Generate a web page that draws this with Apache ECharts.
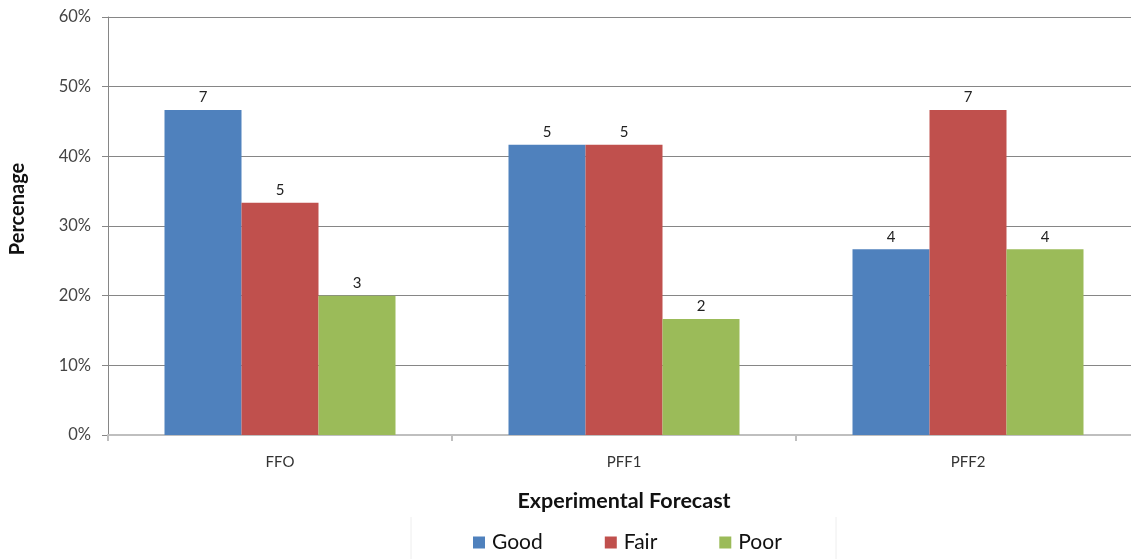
<!DOCTYPE html>
<html>
<head>
<meta charset="utf-8">
<script src="https://cdn.jsdelivr.net/npm/echarts@6/dist/echarts.min.js"></script>
<style>
  html, body { margin: 0; padding: 0; background: #fff; overflow: hidden; }
  /* canvas is a little wider than the window so the plot runs off the right edge */
  #chart { width: 1141px; height: 559px; }
</style>
</head>
<body>
<div id="chart"></div>
<script>
// Forecast groups and how many cases fell into each rating
const categories = ['FFO', 'PFF1', 'PFF2'];
const totals = [15, 12, 15];
const goodCounts = [7, 5, 4];
const fairCounts = [5, 5, 7];
const poorCounts = [3, 2, 4];
const seriesNames = ['Good', 'Fair', 'Poor'];
const colors = ['#4F81BD', '#C0504D', '#9BBB59'];

// Bar height is the share of the group's total; the label shows the count
function toShare(counts) {
  return counts.map((c, i) => ({ value: c / totals[i], count: c }));
}

const font = 'Lato, "Open Sans", "Liberation Sans", sans-serif';
const chart = echarts.init(document.getElementById('chart'), null, { renderer: 'canvas' });

const countSets = [goodCounts, fairCounts, poorCounts];
const series = seriesNames.map((name, k) => ({
  name: name,
  type: 'bar',
  data: toShare(countSets[k]),
  barWidth: 77,
  barGap: '0%',
  itemStyle: { color: colors[k] },
  label: {
    show: true,
    position: 'top',
    distance: 5,
    color: '#222',
    fontFamily: font,
    fontSize: 15,
    formatter: p => p.data.count
  }
}));

chart.setOption({
  animation: false,
  textStyle: { fontFamily: font },
  grid: { left: 108, top: 17, right: 1, bottom: 124, containLabel: false },
  legend: {
    data: seriesNames,
    left: 468,
    top: 527,
    itemWidth: 12,
    itemHeight: 12,
    itemGap: 62,
    icon: 'rect',
    textStyle: { fontSize: 21, color: '#111', fontFamily: font, padding: [0, 0, 0, 2] }
  },
  xAxis: {
    type: 'category',
    data: categories,
    name: 'Experimental Forecast',
    nameLocation: 'middle',
    nameGap: 55,
    nameTextStyle: { fontSize: 21.5, fontWeight: 'bold', color: '#111', fontFamily: font },
    axisLine: { lineStyle: { color: '#BFBFBF', width: 2 } },
    axisTick: { show: true, alignWithLabel: false, length: 6, lineStyle: { color: '#BFBFBF', width: 2 } },
    axisLabel: { fontSize: 15, color: '#333', margin: 20, fontFamily: font },
    splitLine: { show: false }
  },
  yAxis: {
    type: 'value',
    min: 0,
    max: 0.6,
    interval: 0.1,
    axisLine: { show: true, lineStyle: { color: '#868686', width: 1 } },
    axisTick: { show: true, length: 6, inside: false, lineStyle: { color: '#868686' } },
    axisLabel: {
      fontSize: 16.5,
      color: '#444',
      margin: 17,
      fontFamily: font,
      formatter: v => Math.round(v * 100) + '%'
    },
    splitLine: { show: true, lineStyle: { color: '#868686', width: 1 } }
  },
  graphic: [
    {
      type: 'text',
      x: 18,
      y: 209,
      rotation: Math.PI / 2,
      style: {
        text: 'Percenage',
        font: 'bold 20px ' + font,
        fill: '#111',
        textAlign: 'center',
        textVerticalAlign: 'middle'
      }
    },
    { type: 'line', shape: { x1: 411, y1: 517, x2: 411, y2: 559 }, style: { stroke: '#EEEEEE', lineWidth: 1 } },
    { type: 'line', shape: { x1: 836, y1: 517, x2: 836, y2: 559 }, style: { stroke: '#EEEEEE', lineWidth: 1 } }
  ],
  series: series
});
</script>
</body>
</html>
